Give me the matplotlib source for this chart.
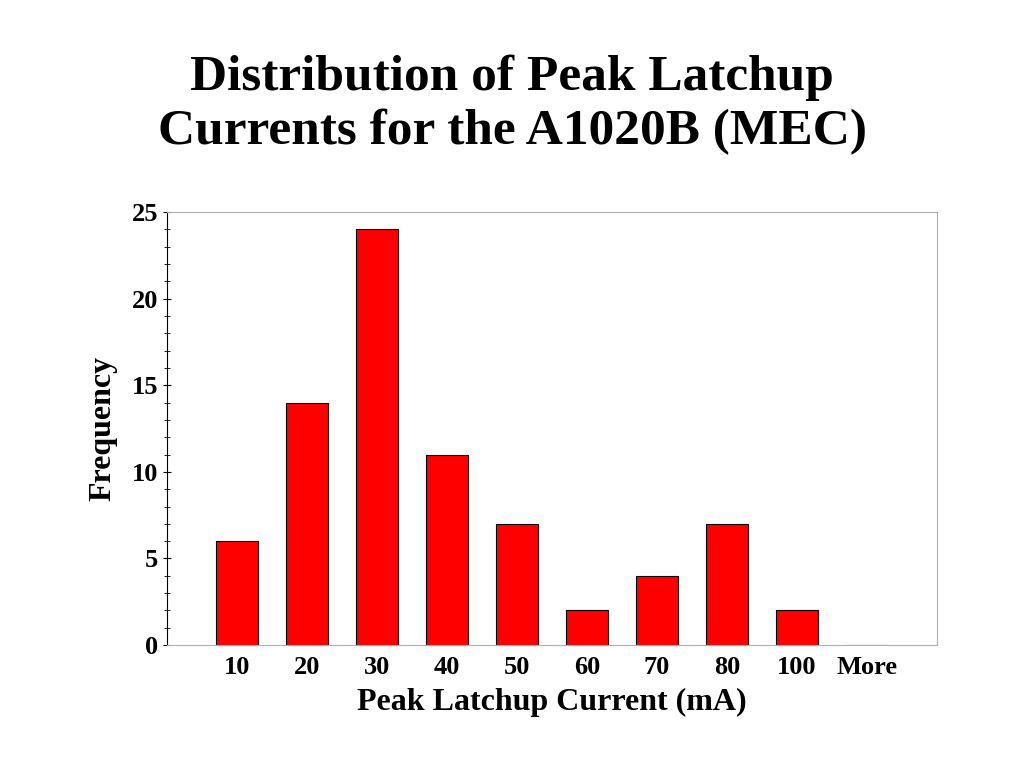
import matplotlib.pyplot as plt
from matplotlib.ticker import MultipleLocator

bins = ['10', '20', '30', '40', '50', '60', '70', '80', '100', 'More']
freq = [6, 14, 24, 11, 7, 2, 4, 7, 2, 0]

plt.rcParams['font.family'] = ['Liberation Serif', 'DejaVu Serif']

fig = plt.figure(figsize=(10.24, 7.68), dpi=100)
ax = fig.add_axes([0.163, 0.160, 0.752, 0.564])

pos = list(range(len(bins)))
ax.bar(pos, freq, width=0.6, color='#ff0000', edgecolor='black', linewidth=0.8)

ax.set_xlim(-1, len(bins))
ax.set_ylim(0, 25)
ax.set_xticks(pos)
ax.set_xticklabels(bins, fontsize=19, fontweight='bold')
ax.yaxis.set_major_locator(MultipleLocator(5))
ax.yaxis.set_minor_locator(MultipleLocator(1))
ax.tick_params(axis='y', which='major', labelsize=19, length=6, direction='inout')
ax.tick_params(axis='y', which='minor', length=4, direction='inout')
ax.tick_params(axis='x', length=0, pad=8)
for t in ax.get_yticklabels():
    t.set_fontweight('bold')

ax.spines['left'].set_color('black')
for s in ['top', 'right', 'bottom']:
    ax.spines[s].set_color('#b0b0b0')
    ax.spines[s].set_linewidth(0.8)

ax.set_xlabel('Peak Latchup Current (mA)', fontsize=23, fontweight='bold', labelpad=6)
ax.set_ylabel('Frequency', fontsize=23, fontweight='bold', labelpad=10)

fig.text(0.5, 0.863, 'Distribution of Peak Latchup\nCurrents for the A1020B (MEC)',
         ha='center', va='center', fontsize=37, fontweight='bold', linespacing=1.22)

fig.savefig('out.png', dpi=100)
